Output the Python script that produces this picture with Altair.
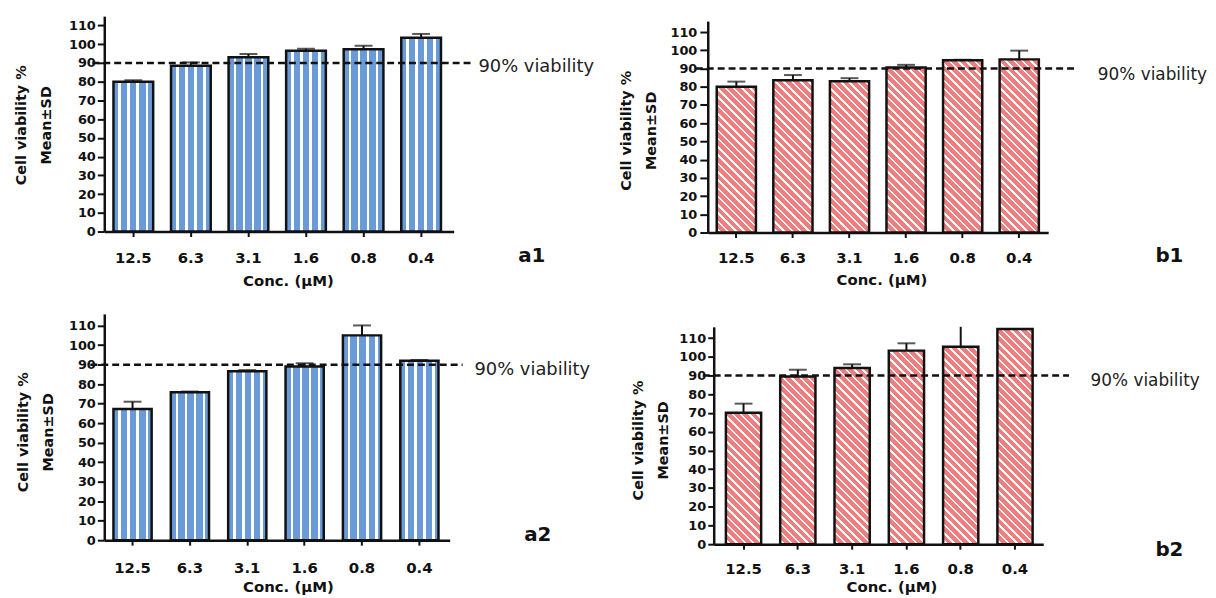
import math
import altair as alt
import pandas as pd

# ---------------- data ----------------
conc = ["12.5", "6.3", "3.1", "1.6", "0.8", "0.4"]

a1_mean = [80.0, 88.5, 93.0, 96.5, 97.3, 103.5]
a1_sd = [0.8, 1.8, 1.8, 1.1, 1.9, 2.0]

b1_mean = [80.0, 83.5, 83.0, 90.5, 94.5, 95.0]
b1_sd = [2.8, 2.9, 1.7, 1.5, 0.3, 4.8]

a2_mean = [67.3, 75.8, 86.6, 89.0, 105.0, 92.0]
a2_sd = [3.7, 0.4, 0.6, 1.7, 5.1, 0.4]

b2_mean = [70.2, 89.5, 94.0, 103.3, 105.4, 114.8]
b2_sd = [4.8, 3.6, 2.0, 3.9, 12.0, 0.0]

threshold = [90]
threshold_label = ["90% viability"]
y_tick_values = list(range(0, 111, 10))
x_title = "Conc. (µM)"
y_title = ["Cell viability %", "Mean±SD"]

# ---------------- styles / layout ----------------
FONT = "DejaVu Sans"
INK = "#111111"
BLUE = "#6a9bd8"
RED = "#f07e7e"
STRIPE = "#ffffff"

LAYOUT = {
    "a1": dict(w=352, h=217, ymax=115, yr=[217, 0], xr=None, yoff=0,
               pi=0.31, po=0.19, al=0.42, ytick=7, ylp=2, ytx=-79.4, yty=109.5,
               xlp=14.0, xtx=185, xty=54, ext=371, x0=-12, tx=377, tdy=4, tfs=18,
               lx=417, ly=242),
    "b1": dict(w=343, h=218, ymax=116, yr=[218, 5], xr=None, yoff=0,
               pi=0.307, po=0.162, al=0.49, ytick=8, ylp=3, ytx=-77.7, yty=115,
               xlp=13.0, xtx=175, xty=52.7, ext=370, x0=-12, tx=393, tdy=7, tfs=17,
               lx=451, ly=241.7),
    "a2": dict(w=348, h=228, ymax=116, yr=[228, 0], xr=None, yoff=0,
               pi=0.334, po=0.1775, al=0.45, ytick=7, ylp=2, ytx=-77.5, yty=118.8,
               xlp=16.0, xtx=185, xty=52, ext=361, x0=-14, tx=373, tdy=5, tfs=18,
               lx=423, ly=223),
    "b2": dict(w=338, h=232, ymax=116, yr=[232, 13], xr=[6, 338], yoff=-6,
               pi=0.351, po=0.21, al=0.535, ytick=6, ylp=2, ytx=-71.8, yty=127,
               xlp=12.5, xtx=185, xty=48, ext=364, x0=-5, tx=385.7, tdy=6, tfs=17,
               lx=451, ly=238),
}


def stripe_stops(length, period, white, phase, base, hi):
    stops = [{"offset": 0, "color": base}]
    s = phase
    while s < length:
        e = min(s + white, length)
        o1, o2 = round(s / length, 5), round(e / length, 5)
        stops += [{"offset": o1, "color": base}, {"offset": o1, "color": hi},
                  {"offset": o2, "color": hi}, {"offset": o2, "color": base}]
        s += period
    stops.append({"offset": 1, "color": base})
    return stops


def vertical_gradient(bw):
    return {"gradient": "linear", "x1": 0, "y1": 0, "x2": 1, "y2": 0,
            "stops": stripe_stops(bw, 9.1, 2.6, 5.0, BLUE, STRIPE)}


def diagonal_gradient(w, h):
    k = (w + h) / (w * w + h * h)
    length = (w + h) / math.sqrt(2)
    return {"gradient": "linear", "x1": 0, "y1": 1,
            "x2": round(k * w, 5), "y2": round(1 - k * h, 5),
            "stops": stripe_stops(length, 5.9, 1.8, 2.0, RED, STRIPE)}


def build_panel(name, mean, sd, kind):
    P = LAYOUT[name]
    df = pd.DataFrame({"conc": conc, "mean": mean, "sd": sd})
    df["hi"] = df["mean"] + df["sd"]

    xs = dict(domain=conc, paddingInner=P["pi"], paddingOuter=P["po"], align=P["al"])
    if P["xr"]:
        xs["range"] = P["xr"]
    x_scale = alt.Scale(**xs)
    y_scale = alt.Scale(domain=[0, P["ymax"]], nice=False, range=P["yr"], clamp=True)

    L = (P["xr"][1] - P["xr"][0]) if P["xr"] else P["w"]
    step = L / (len(conc) - P["pi"] + 2 * P["po"])
    bw = step * (1 - P["pi"])
    ppu = (P["yr"][0] - P["yr"][1]) / P["ymax"]

    x_axis = alt.Axis(title=x_title, labelAngle=0, tickSize=5, labelPadding=P["xlp"],
                      labelFontSize=15, titleFontSize=15, titleX=P["xtx"], titleY=P["xty"],
                      titleBaseline="alphabetic", titleAlign="center", labelOverlap=False)
    y_axis = alt.Axis(title=y_title, values=y_tick_values, tickCount=12, tickSize=P["ytick"],
                      labelPadding=P["ylp"], labelFontSize=13, titleFontSize=14.5,
                      titleX=P["ytx"], titleY=P["yty"], titleBaseline="alphabetic",
                      titleLineHeight=25, titleAngle=270, titleAlign="center",
                      offset=P["yoff"], labelOverlap=False, labelFlush=False)

    X = alt.X("conc:N", sort=conc, scale=x_scale, axis=x_axis)
    Y = alt.Y("mean:Q", scale=y_scale, axis=y_axis)

    base = alt.Chart(df)
    layers = []
    if kind == "vertical":
        layers.append(base.mark_bar(fill=vertical_gradient(bw), stroke=INK, strokeWidth=2.5)
                      .encode(x=X, y=Y))
    else:
        for i, c in enumerate(conc):
            grad = diagonal_gradient(bw, mean[i] * ppu)
            layers.append(base.transform_filter(alt.datum.conc == c)
                          .mark_bar(fill=grad, stroke=INK, strokeWidth=2.5)
                          .encode(x=X, y=Y))

    layers.append(base.mark_rule(color=INK, strokeWidth=2)
                  .encode(x=X, y=Y, y2="hi:Q"))
    layers.append(base.transform_filter(alt.datum.hi <= P["ymax"])
                  .transform_filter(alt.datum.sd > 0)
                  .mark_tick(color=INK, size=18, thickness=2)
                  .encode(x=X, y=alt.Y("hi:Q", scale=y_scale, axis=y_axis)))

    thr = pd.DataFrame({"v": threshold, "t": threshold_label})
    layers.append(alt.Chart(thr).mark_rule(color=INK, strokeWidth=2.5, strokeDash=[7, 4])
                  .encode(x=alt.value(P["x0"]), x2=alt.value(P["ext"]),
                          y=alt.Y("v:Q", scale=y_scale, axis=y_axis)))
    layers.append(alt.Chart(thr).mark_text(align="left", baseline="middle", font=FONT,
                                           fontSize=P["tfs"], color="#222222", dy=P["tdy"])
                  .encode(x=alt.value(P["tx"]), y=alt.Y("v:Q", scale=y_scale, axis=y_axis),
                          text="t:N"))
    layers.append(alt.Chart(pd.DataFrame({"p": [name]}))
                  .mark_text(align="left", baseline="middle", font=FONT, fontSize=20,
                             fontWeight="bold", color=INK)
                  .encode(x=alt.value(P["lx"]), y=alt.value(P["ly"]), text="p:N"))

    return alt.layer(*layers).properties(width=P["w"], height=P["h"])


a1 = build_panel("a1", a1_mean, a1_sd, "vertical")
b1 = build_panel("b1", b1_mean, b1_sd, "diagonal")
a2 = build_panel("a2", a2_mean, a2_sd, "vertical")
b2 = build_panel("b2", b2_mean, b2_sd, "diagonal")

chart = alt.concat(
    a1, b1, a2, b2, columns=2,
    spacing={"row": 68, "column": 256}, bounds="flush", align="all",
).properties(
    padding={"left": 5, "top": 6, "right": 0, "bottom": 0}
).configure_view(stroke=None).configure_axis(
    labelFont=FONT, titleFont=FONT, labelFontWeight="bold", titleFontWeight="bold",
    labelColor=INK, titleColor=INK, domainColor=INK, tickColor=INK,
    domainWidth=2.5, tickWidth=2, grid=False,
)

chart.save("out.html", embed_options={"renderer": "svg", "actions": False})
